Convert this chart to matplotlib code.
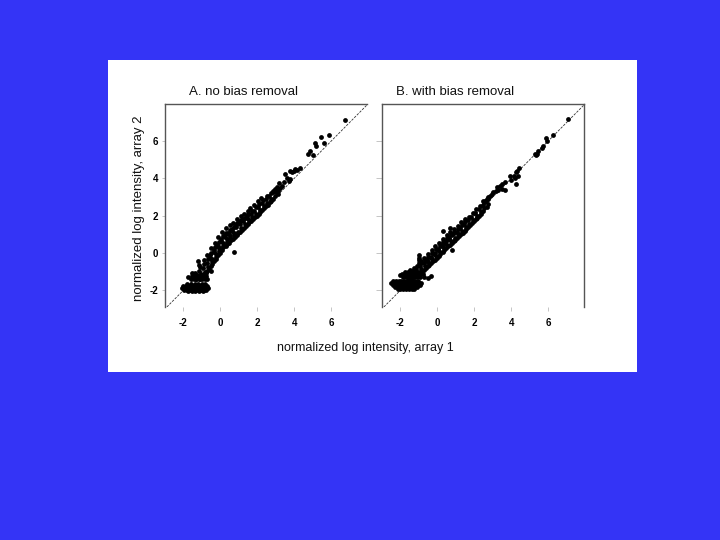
import matplotlib
matplotlib.use("Agg")
import matplotlib.pyplot as plt
from matplotlib.patches import Rectangle

plt.rcParams['font.family'] = ['Liberation Sans', 'DejaVu Sans']
plt.rcParams['axes.unicode_minus'] = False

# ---------------- data ----------------
titles = ["A. no bias removal", "B. with bias removal"]
xlabel = "normalized log intensity, array 1"
ylabel = "normalized log intensity, array 2"
ticks = [-2, 0, 2, 4, 6]

# Panel A: main band
A_band_x = [-1.32, -1.25, -1.35, -1.22,
            -1.12, -1.05, -1.15, -1.08, -1.02, -1.18,
            -0.92, -0.85, -0.95, -0.88, -0.82, -0.9, -0.97,
            -0.72, -0.66, -0.75, -0.68, -0.63, -0.7, -0.78,
            -0.52, -0.46, -0.55, -0.48, -0.43, -0.5, -0.57, -0.45,
            -0.32, -0.26, -0.35, -0.28, -0.23, -0.3, -0.37, -0.25,
            -0.12, -0.06, -0.15, -0.08, -0.03, -0.1, -0.17, -0.05,
            0.08, 0.14, 0.05, 0.12, 0.17, 0.1, 0.03, 0.15,
            0.28, 0.34, 0.25, 0.32, 0.37, 0.3, 0.23, 0.35,
            0.48, 0.54, 0.45, 0.52, 0.57, 0.5, 0.43, 0.55,
            0.68, 0.74, 0.65, 0.72, 0.77, 0.7, 0.63, 0.75,
            0.88, 0.94, 0.85, 0.92, 0.97, 0.9, 0.83,
            1.08, 1.14, 1.05, 1.12, 1.17, 1.1, 1.03,
            1.28, 1.34, 1.25, 1.32, 1.37, 1.3, 1.23,
            1.48, 1.54, 1.45, 1.52, 1.57, 1.5, 1.43,
            1.68, 1.74, 1.65, 1.72, 1.77, 1.63,
            1.88, 1.94, 1.85, 1.92, 1.97, 1.83,
            2.08, 2.14, 2.05, 2.12, 2.17, 2.03,
            2.28, 2.34, 2.25, 2.32, 2.37, 2.23,
            2.48, 2.54, 2.45, 2.52, 2.57,
            2.68, 2.74, 2.65, 2.72, 2.77,
            2.88, 2.94, 2.85, 2.92]
A_band_y = [-1.42, -1.2, -1.05, -1.35,
            -1.38, -1.15, -0.95, -0.75, -1.28, -0.62,
            -1.2, -1.0, -0.8, -0.6, -1.1, -0.4, -1.3,
            -0.95, -0.75, -0.55, -0.3, -0.85, -0.1, -1.05,
            -0.7, -0.45, -0.25, 0.0, -0.6, 0.25, -0.1, -0.3,
            -0.42, -0.2, 0.05, 0.3, -0.3, 0.55, 0.15, -0.05,
            -0.12, 0.1, 0.35, 0.6, 0.0, 0.85, 0.45, 0.25,
            0.15, 0.4, 0.65, 0.9, 0.3, 1.15, 0.75, 0.55,
            0.35, 0.6, 0.85, 1.1, 0.5, 1.32, 0.95, 0.75,
            0.55, 0.8, 1.0, 1.25, 0.7, 1.48, 1.1, 0.9,
            0.75, 0.98, 1.2, 1.4, 0.88, 1.62, 1.3, 1.05,
            0.95, 1.15, 1.38, 1.6, 1.05, 1.82, 1.48,
            1.15, 1.35, 1.55, 1.75, 1.25, 1.98, 1.65,
            1.35, 1.55, 1.72, 1.9, 1.45, 2.12, 1.8,
            1.55, 1.75, 1.9, 2.08, 1.65, 2.28, 1.98,
            1.72, 1.92, 2.08, 2.25, 1.82, 2.42,
            1.92, 2.1, 2.28, 2.45, 2.0, 2.58,
            2.12, 2.3, 2.48, 2.65, 2.22, 2.78,
            2.32, 2.5, 2.68, 2.85, 2.42, 2.95,
            2.52, 2.7, 2.88, 3.05, 2.6,
            2.72, 2.88, 3.05, 3.22, 2.8,
            2.92, 3.08, 3.25, 3.35]

# Panel A: low-intensity cluster and the layer above it
A_low_x = [-1.8, -1.6, -1.4, -1.2, -1.0, -0.85,
           -2.0, -1.85, -1.7, -1.55, -1.4, -1.25, -1.1, -0.95, -0.75,
           -2.1, -1.92, -1.77, -1.62, -1.47, -1.32, -1.17, -1.02, -0.87, -0.68,
           -1.95, -1.8, -1.65, -1.5, -1.35, -1.2, -1.05, -0.9, -0.78,
           -1.75, -1.55, -1.35, -1.15, -0.95,
           -1.6, -1.45, -1.3, -1.15, -1.0, -0.85, -0.7,
           -1.55, -1.4, -1.25, -1.1, -0.95, -0.8]
A_low_y = [-1.65, -1.65, -1.65, -1.65, -1.65, -1.65,
           -1.76, -1.76, -1.76, -1.76, -1.76, -1.76, -1.76, -1.76, -1.76,
           -1.87, -1.87, -1.87, -1.87, -1.87, -1.87, -1.87, -1.87, -1.87, -1.87,
           -1.97, -1.97, -1.97, -1.97, -1.97, -1.97, -1.97, -1.97, -1.97,
           -2.06, -2.06, -2.06, -2.06, -2.06,
           -1.38, -1.38, -1.38, -1.38, -1.38, -1.38, -1.38,
           -1.22, -1.22, -1.22, -1.22, -1.22, -1.22]

# Panel A: sparse points and outliers
A_sparse_x = [6.74, 5.89, 5.44, 5.6, 5.13, 5.2, 4.88, 4.77, 5.0, 4.32, 4.07, 3.97,
              3.88, 3.78, 3.52, 3.79, 3.7, 3.43, 3.2, 3.34, 3.07, 2.95, 2.85, 3.14,
              3.6, 4.15, 3.25, 3.0, 3.1,
              -1.73, -0.5, -1.23, -1.53, 0.72]
A_sparse_y = [7.14, 6.32, 6.25, 5.93, 5.88, 5.77, 5.48, 5.34, 5.27, 4.59, 4.49, 4.42,
              4.33, 4.42, 4.24, 3.97, 3.88, 3.79, 3.76, 3.61, 3.52, 3.43, 3.31, 3.31,
              4.05, 4.45, 3.5, 3.25, 3.15,
              -1.3, -0.95, -0.42, -1.07, 0.08]

# Panel B: main band
B_band_x = [-1.52, -1.46, -1.55, -1.48,
            -1.32, -1.26, -1.35, -1.28, -1.23,
            -1.12, -1.06, -1.15, -1.08, -1.03,
            -0.92, -0.86, -0.95, -0.88, -0.83, -0.9,
            -0.72, -0.66, -0.75, -0.68, -0.63, -0.7,
            -0.52, -0.46, -0.55, -0.48, -0.43, -0.5, -0.57,
            -0.32, -0.26, -0.35, -0.28, -0.23, -0.3, -0.37,
            -0.12, -0.06, -0.15, -0.08, -0.03, -0.1, -0.17,
            0.08, 0.14, 0.05, 0.12, 0.17, 0.1, 0.03,
            0.28, 0.34, 0.25, 0.32, 0.37, 0.3, 0.23,
            0.48, 0.54, 0.45, 0.52, 0.57, 0.5, 0.43,
            0.68, 0.74, 0.65, 0.72, 0.77, 0.7, 0.63,
            0.88, 0.94, 0.85, 0.92, 0.97, 0.9,
            1.08, 1.14, 1.05, 1.12, 1.17, 1.1,
            1.28, 1.34, 1.25, 1.32, 1.37, 1.3,
            1.48, 1.54, 1.45, 1.52, 1.57, 1.5,
            1.68, 1.74, 1.65, 1.72, 1.77,
            1.88, 1.94, 1.85, 1.92, 1.97,
            2.08, 2.14, 2.05, 2.12, 2.17,
            2.28, 2.34, 2.25, 2.32, 2.37,
            2.48, 2.54, 2.45, 2.52,
            2.68, 2.74, 2.65, 2.72]
B_band_y = [-1.38, -1.2, -1.02, -0.9,
            -1.28, -1.1, -0.95, -0.8, -1.18,
            -1.18, -1.0, -0.85, -0.68, -1.1,
            -1.05, -0.88, -0.72, -0.55, -0.95, -0.45,
            -0.9, -0.72, -0.55, -0.38, -0.8, -0.25,
            -0.72, -0.55, -0.38, -0.2, -0.62, -0.05, -0.45,
            -0.55, -0.38, -0.2, -0.02, -0.45, 0.15, -0.28,
            -0.35, -0.15, 0.02, 0.2, -0.25, 0.38, -0.05,
            -0.15, 0.05, 0.22, 0.4, -0.05, 0.55, 0.15,
            0.05, 0.25, 0.42, 0.6, 0.15, 0.75, 0.35,
            0.25, 0.45, 0.62, 0.8, 0.35, 0.95, 0.55,
            0.45, 0.65, 0.82, 0.98, 0.55, 1.12, 0.75,
            0.62, 0.82, 1.0, 1.15, 0.72, 1.3,
            0.8, 1.0, 1.15, 1.3, 0.9, 1.45,
            1.0, 1.2, 1.35, 1.5, 1.1, 1.65,
            1.2, 1.4, 1.55, 1.7, 1.3, 1.85,
            1.4, 1.58, 1.75, 1.92, 1.5,
            1.6, 1.78, 1.95, 2.15, 1.7,
            1.8, 1.98, 2.15, 2.35, 1.9,
            2.0, 2.18, 2.35, 2.55, 2.1,
            2.25, 2.42, 2.58, 2.75,
            2.45, 2.62, 2.78, 2.92]

# Panel B: low-intensity cluster and step layer
B_low_x = [-2.4, -2.25, -2.1, -1.95, -1.8, -1.65, -1.5, -1.35, -1.2, -1.05,
           -2.5, -2.35, -2.2, -2.05, -1.9, -1.75, -1.6, -1.45, -1.3, -1.15, -1.0, -0.88,
           -2.4, -2.25, -2.1, -1.95, -1.8, -1.65, -1.5, -1.35, -1.2, -1.05, -0.92,
           -2.3, -2.15, -2.0, -1.85, -1.7, -1.55, -1.4, -1.25, -1.1,
           -2.15, -2.0, -1.85, -1.7, -1.55, -1.4, -1.25,
           -1.75, -1.6, -1.45, -1.3, -1.15,
           -1.9, -1.75, -1.6, -1.45, -1.3, -1.15, -0.95, -0.8,
           -1.85, -1.7, -1.55, -1.4, -1.25, -1.1, -0.95, -0.75]
B_low_y = [-1.5, -1.5, -1.5, -1.5, -1.5, -1.5, -1.5, -1.5, -1.5, -1.5,
           -1.61, -1.61, -1.61, -1.61, -1.61, -1.61, -1.61, -1.61, -1.61, -1.61, -1.61, -1.61,
           -1.72, -1.72, -1.72, -1.72, -1.72, -1.72, -1.72, -1.72, -1.72, -1.72, -1.72,
           -1.83, -1.83, -1.83, -1.83, -1.83, -1.83, -1.83, -1.83, -1.83,
           -1.94, -1.94, -1.94, -1.94, -1.94, -1.94, -1.94,
           -1.0, -1.0, -1.0, -1.0, -1.0,
           -1.14, -1.14, -1.14, -1.14, -1.14, -1.14, -1.14, -1.14,
           -1.28, -1.28, -1.28, -1.28, -1.28, -1.28, -1.28, -1.28]

# Panel B: sparse points and outliers
B_sparse_x = [7.09, 6.28, 5.88, 5.95, 5.74, 5.65, 5.48, 5.41, 5.34, 5.29,
              4.44, 4.33, 4.26, 4.38, 4.15, 4.2, 4.26, 3.93, 3.97, 3.66, 3.53,
              3.39, 3.48, 3.3, 3.17, 3.21, 3.66, 3.03, 2.94, 2.85, 2.76, 2.67,
              2.58, 2.48,
              -1.0, -1.0, -0.99, -0.99, 0.8, -0.5, -0.35, -2.0, 0.66, 0.33]
B_sparse_y = [7.18, 6.32, 6.2, 6.02, 5.75, 5.63, 5.45, 5.34, 5.27, 5.34,
              4.56, 4.42, 4.33, 4.15, 4.15, 4.0, 3.7, 4.15, 3.92, 3.79, 3.7,
              3.61, 3.43, 3.38, 3.31, 3.52, 3.38, 3.26, 3.17, 3.08, 2.99, 2.9,
              2.81, 2.78,
              -0.1, -0.25, -0.4, -0.55, 0.15, -1.35, -1.25, -1.17, 1.34, 1.16]

A_x = A_band_x + A_low_x + A_sparse_x
A_y = A_band_y + A_low_y + A_sparse_y
B_x = B_band_x + B_low_x + B_sparse_x
B_y = B_band_y + B_low_y + B_sparse_y

# ---------------- drawing ----------------
BLUE = '#3434F6'
W, H = 720, 540
fig = plt.figure(figsize=(7.2, 5.4), dpi=100, facecolor=BLUE)
fig.patches.append(Rectangle((108 / W, 1 - 372 / H), (637 - 108) / W, (372 - 60) / H,
                             transform=fig.transFigure, facecolor='white',
                             edgecolor='none', zorder=-1))

def make_axes(left_px, xs, ys, show_right, show_ylabels):
    ax = fig.add_axes([left_px / W, 1 - 307 / H, 202 / W, 203 / H])
    ax.set_facecolor('white')
    ax.set_xlim(-3.0, 7.95)
    ax.set_ylim(-2.9, 8.0)
    ax.axline((0, 0), slope=1, color='#333333', lw=0.6, linestyle=(0, (3, 1.5)), zorder=1)
    ax.scatter(xs, ys, s=12, c='black', linewidths=0, zorder=2)
    for side in ['bottom', 'right', 'left', 'top']:
        ax.spines[side].set_color('#555555')
        ax.spines[side].set_linewidth(1.0)
    ax.spines['bottom'].set_visible(False)
    ax.spines['right'].set_visible(show_right)
    ax.set_xticks(ticks)
    ax.set_yticks(ticks)
    ax.tick_params(axis='x', direction='out', length=3, width=0.6,
                   color='#bbbbbb', labelsize=7, labelcolor='black', pad=5)
    ax.tick_params(axis='y', direction='out', length=2, width=0.6,
                   color='#bbbbbb', labelsize=7, labelcolor='black', pad=3)
    for lab in ax.get_xticklabels() + ax.get_yticklabels():
        lab.set_fontweight('bold')
    if not show_ylabels:
        ax.tick_params(axis='y', labelleft=False, length=4)
    return ax

axA = make_axes(165, A_x, A_y, show_right=False, show_ylabels=True)
axB = make_axes(382, B_x, B_y, show_right=True, show_ylabels=False)

fig.text(189 / W, 1 - 92 / H, titles[0], ha='left', va='center', fontsize=9.5, color='#111111')
fig.text(396 / W, 1 - 92 / H, titles[1], ha='left', va='center', fontsize=9.5, color='#111111')
fig.text(365 / W, 1 - 348 / H, xlabel, ha='center', va='center', fontsize=9, color='#111111')
fig.text(139 / W, 1 - 208 / H, ylabel, ha='center', va='center', rotation=90,
         fontsize=9.5, color='#111111')

fig.savefig('out.png', dpi=100, facecolor=BLUE)
